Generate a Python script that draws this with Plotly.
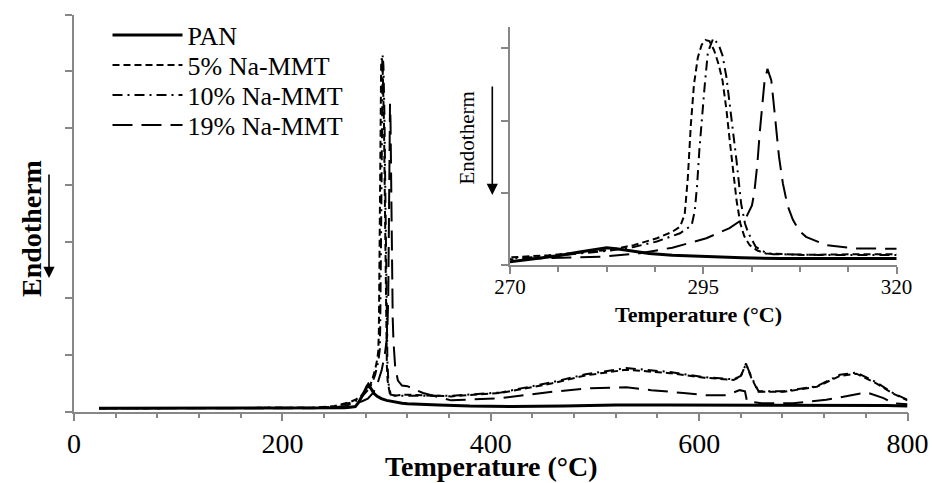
import plotly.graph_objects as go

W, H = 932, 483
FONT = "Liberation Serif"
AX = "#878787"

# ---- data (temperature in °C, heat-flow signal in arbitrary units) ----
pan_t = [24, 50, 100, 150, 200, 230, 250, 260, 265, 270, 273, 276, 279, 281, 282.5, 284, 286, 288, 291,
         295, 300, 305, 310, 315, 320, 330, 350, 380, 420, 470, 520, 570, 620, 680, 740, 780, 800]
pan_v = [0.06, 0.06, 0.06, 0.06, 0.06, 0.06, 0.065, 0.07, 0.08, 0.09, 0.16, 0.25, 0.36, 0.44, 0.48, 0.44, 0.37,
         0.32, 0.27, 0.23, 0.20, 0.18, 0.16, 0.15, 0.14, 0.13, 0.12, 0.10, 0.09, 0.10, 0.12, 0.12, 0.12, 0.11,
         0.11, 0.11, 0.10]

mmt5_t = [24, 100, 200, 230, 250, 260, 265, 270, 275, 280, 283, 286, 289, 291, 292, 292.6, 293.0, 293.4,
          293.8, 294.3, 294.8, 295.3, 295.8, 296.4, 297.0, 297.5, 298.0, 298.4, 298.9, 299.3, 299.8, 300.3,
          301.0, 302.0, 303.1, 308, 315, 320, 335, 362, 410, 459, 491, 530, 572, 605, 633, 640, 645, 650,
          657, 681, 713, 735, 751, 770, 786, 800]
mmt5_v = [0.06, 0.06, 0.06, 0.07, 0.10, 0.14, 0.17, 0.21, 0.27, 0.36, 0.42, 0.55, 0.74, 0.92, 1.06, 1.4,
          2.4, 3.9, 5.0, 5.75, 6.1, 6.23, 6.2, 5.95, 5.55, 5.1, 4.3, 3.5, 2.5, 1.8, 1.15, 0.8, 0.55, 0.4,
          0.32, 0.28, 0.30, 0.30, 0.29, 0.27, 0.33, 0.50, 0.64, 0.74, 0.68, 0.60, 0.56, 0.62, 0.85, 0.60,
          0.35, 0.35, 0.44, 0.63, 0.67, 0.50, 0.32, 0.20]

mmt10_t = [24, 100, 200, 230, 250, 260, 265, 270, 275, 280, 283, 286, 289, 292, 293.5, 293.9, 294.2, 294.5,
           294.9, 295.2, 295.6, 296.3, 297.0, 297.5, 298.0, 298.4, 298.9, 299.3, 299.9, 300.4, 300.8, 301.8,
           303, 304, 310, 320, 335, 362, 410, 459, 491, 530, 572, 605, 633, 640, 645, 650, 657, 681, 713,
           735, 751, 770, 786, 800]
mmt10_v = [0.06, 0.06, 0.06, 0.07, 0.09, 0.13, 0.15, 0.18, 0.24, 0.33, 0.40, 0.50, 0.65, 0.88, 1.1, 1.5,
           2.2, 3.2, 4.3, 5.0, 5.9, 6.28, 6.1, 5.8, 5.2, 4.5, 3.6, 2.9, 1.7, 1.15, 0.9, 0.5, 0.35, 0.30,
           0.28, 0.28, 0.28, 0.28, 0.34, 0.52, 0.66, 0.77, 0.70, 0.61, 0.57, 0.63, 0.84, 0.62, 0.36, 0.36,
           0.45, 0.65, 0.69, 0.52, 0.33, 0.21]

mmt19_t = [24, 100, 200, 230, 250, 260, 265, 270, 276, 282, 287, 291, 295.4, 298.4, 300.6, 301.3, 301.6,
           302.0, 302.3, 302.6, 302.9, 303.3, 303.8, 304.1, 304.4, 304.8, 305.3, 305.9, 306.6, 307.4, 308.3,
           310.9, 314.8, 320, 335, 362, 410, 459, 491, 530, 554, 585, 607, 626, 639, 644, 646, 660, 690,
           722, 745, 761, 777, 786, 800]
mmt19_v = [0.06, 0.06, 0.06, 0.06, 0.08, 0.10, 0.13, 0.16, 0.18, 0.23, 0.33, 0.48, 0.74, 1.02, 1.34, 1.65,
           2.0, 2.8, 3.65, 4.4, 5.03, 5.43, 5.12, 4.5, 3.83, 3.0, 2.26, 1.65, 1.25, 0.95, 0.78, 0.55, 0.46,
           0.45, 0.33, 0.20, 0.24, 0.35, 0.41, 0.43, 0.38, 0.33, 0.29, 0.29, 0.38, 0.36, 0.18, 0.15, 0.15,
           0.21, 0.29, 0.34, 0.24, 0.15, 0.13]

names = ["PAN", "5% Na-MMT", "10% Na-MMT", "19% Na-MMT"]
xs = [pan_t, mmt5_t, mmt10_t, mmt19_t]
ys = [pan_v, mmt5_v, mmt10_v, mmt19_v]
dashes = ["solid", "7px,4px", "10px,5px,2px,5px", "20px,9px"]
widths = [3, 2, 2, 2]

main_x_ticks = [0, 200, 400, 600, 800]
inset_x_ticks = [270, 295, 320]

# ---- geometry helpers (pixel -> paper) ----
def px(x):
    return x / W

def py(y):
    return 1 - y / H

fig = go.Figure()
legends = ["legend", "legend2", "legend3", "legend4"]
for i in range(4):
    fig.add_trace(go.Scatter(x=xs[i], y=ys[i], mode="lines", name=names[i],
                             line=dict(color="black", width=widths[i], dash=dashes[i]),
                             legend=legends[i], xaxis="x", yaxis="y"))
    fig.add_trace(go.Scatter(x=xs[i], y=ys[i], mode="lines", name=names[i], showlegend=False,
                             line=dict(color="black", width=widths[i], dash=dashes[i]),
                             xaxis="x2", yaxis="y2"))

axis_common = dict(showline=True, linecolor=AX, linewidth=1.5, showgrid=False, zeroline=False,
                   ticks="outside", tickcolor=AX, tickwidth=1.5, automargin=False)

layout = dict(
    width=W, height=H, margin=dict(l=0, r=0, t=0, b=0),
    paper_bgcolor="white", plot_bgcolor="rgba(0,0,0,0)",
    font=dict(family=FONT, color="black"),
    xaxis=dict(**axis_common, domain=[px(74), px(907.5)], range=[0, 800], anchor="y",
               tickvals=main_x_ticks, ticklen=8, tickfont=dict(size=28, family=FONT),
               ticklabelstandoff=-2,
               minor=dict(dtick=40, ticks="outside", ticklen=5, tickcolor=AX, tickwidth=1.5)),
    yaxis=dict(**axis_common, domain=[py(411.7), py(14.7)], range=[0, 7], anchor="x",
               dtick=1, ticklen=7, showticklabels=False),
    xaxis2=dict(**axis_common, domain=[px(510), px(896.5)], range=[270, 320], anchor="y2",
                tickvals=inset_x_ticks, ticklen=7, tickfont=dict(size=21, family=FONT),
                ticklabelstandoff=-5,
                minor=dict(dtick=6.25, tick0=270, ticks="outside", ticklen=5, tickcolor=AX, tickwidth=1.5)),
    yaxis2=dict(**axis_common, domain=[py(265), py(26.7)], range=[0, 6.6], anchor="x2",
                dtick=2, ticklen=7, showticklabels=False),
    showlegend=True,
)
row_y = [35, 65, 95, 125]
for i, lg in enumerate(legends):
    layout[lg] = dict(x=px(107.5), y=py(row_y[i]), xanchor="left", yanchor="middle",
                      font=dict(size=26, family=FONT, color="black"), itemwidth=70,
                      bgcolor="rgba(0,0,0,0)", borderwidth=0)
fig.update_layout(**layout)

# axis titles and arrows
fig.add_annotation(x=px(491), y=py(466), xref="paper", yref="paper", text="<b>Temperature (°C)</b>",
                   xanchor="center", yanchor="middle",
                   showarrow=False, font=dict(size=28, family=FONT))
fig.add_annotation(x=px(31), y=py(229), xref="paper", yref="paper", text="<b>Endotherm</b>",
                   xanchor="center", yanchor="middle",
                   textangle=-90, showarrow=False, font=dict(size=28, family=FONT))
fig.add_annotation(x=px(49), y=py(278), xref="paper", yref="paper", ax=0, ay=-105, text="",
                   showarrow=True, arrowhead=2, arrowsize=1.4, arrowwidth=1.6, arrowcolor="black")
fig.add_annotation(x=px(467), y=py(137.5), xref="paper", yref="paper", text="Endotherm",
                   xanchor="center", yanchor="middle",
                   textangle=-90, showarrow=False, font=dict(size=21, family=FONT))
fig.add_annotation(x=px(492.3), y=py(195), xref="paper", yref="paper", ax=0, ay=-110, text="",
                   showarrow=True, arrowhead=2, arrowsize=1.4, arrowwidth=1.6, arrowcolor="black")
fig.add_annotation(x=px(698), y=py(314), xref="paper", yref="paper", text="<b>Temperature (°C)</b>",
                   xanchor="center", yanchor="middle",
                   showarrow=False, font=dict(size=22, family=FONT))

fig.write_html("out.html")
